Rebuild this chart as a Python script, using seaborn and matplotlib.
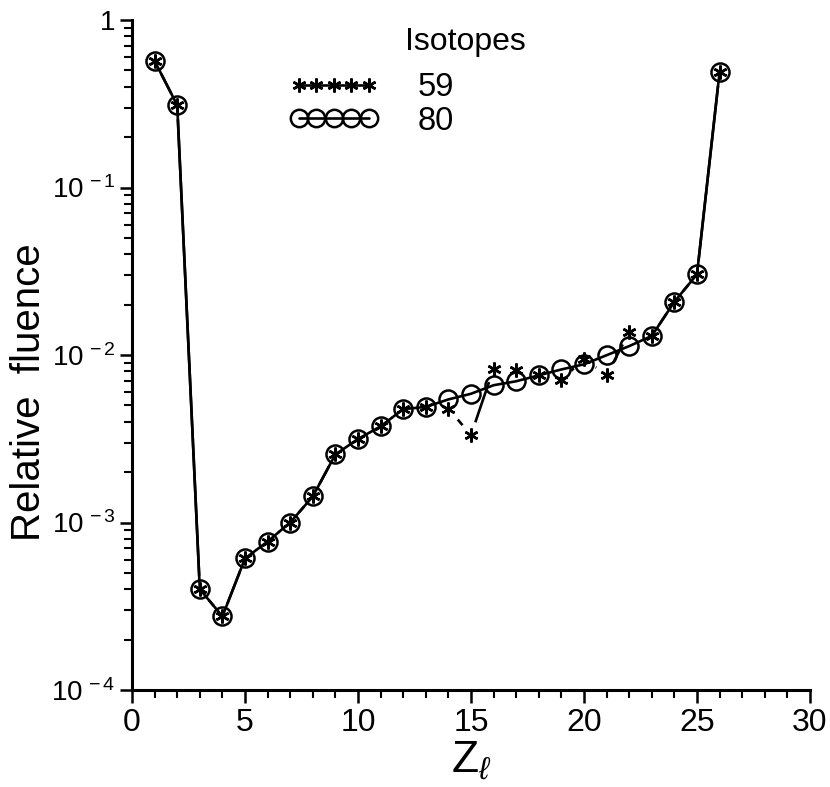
import numpy as np
import pandas as pd
import matplotlib
matplotlib.use("Agg")
import matplotlib.pyplot as plt
import seaborn as sns
from matplotlib.ticker import FixedLocator, LogLocator, NullFormatter, MultipleLocator
from matplotlib.lines import Line2D

# ---- data ----
z_values = list(range(1, 27))
fluence_80 = [0.57, 0.31, 4.0e-4, 2.75e-4, 6.1e-4, 7.7e-4, 1.0e-3, 1.43e-3, 2.55e-3, 3.15e-3,
              3.75e-3, 4.75e-3, 4.9e-3, 5.43e-3, 5.87e-3, 6.6e-3, 6.97e-3, 7.56e-3, 8.2e-3, 8.8e-3,
              9.97e-3, 1.13e-2, 1.30e-2, 2.08e-2, 3.03e-2, 0.49]
fluence_59 = [0.57, 0.31, 4.0e-4, 2.75e-4, 6.1e-4, 7.7e-4, 1.0e-3, 1.43e-3, 2.55e-3, 3.15e-3,
              3.75e-3, 4.75e-3, 4.9e-3, 4.78e-3, 3.33e-3, 8.3e-3, 8.19e-3, 7.56e-3, 7.07e-3, 9.53e-3,
              7.56e-3, 1.37e-2, 1.30e-2, 2.08e-2, 3.03e-2, 0.49]
isotope_labels = ["59", "80"]
legend_title = "Isotopes"
x_ticks = [0, 5, 10, 15, 20, 25, 30]
y_ticks = [1e-4, 1e-3, 1e-2, 1e-1, 1]
y_tick_labels = [r"$\mathregular{10^{\,-4}}$", r"$\mathregular{10^{\,-3}}$",
                 r"$\mathregular{10^{\,-2}}$", r"$\mathregular{10^{\,-1}}$", "1"]

df59 = pd.DataFrame({"Z": z_values, "F": fluence_59})
df80 = pd.DataFrame({"Z": z_values, "F": fluence_80})

sns.set_theme(style="ticks")
plt.rcParams["font.family"] = ["Liberation Sans", "DejaVu Sans"]
plt.rcParams["mathtext.fontset"] = "custom"
plt.rcParams["mathtext.rm"] = "Liberation Sans"
plt.rcParams["mathtext.it"] = "Liberation Sans:italic"
for key in ["text.color", "axes.labelcolor", "xtick.color", "ytick.color", "axes.edgecolor"]:
    plt.rcParams[key] = "black"

W, H = 830, 787
fig = plt.figure(figsize=(W / 100, H / 100), dpi=100)
ax = fig.add_axes([132 / W, (H - 690) / H, (810 - 132) / W, (690 - 20) / H])

lw = 1.9
circ_kw = dict(marker="o", markersize=13, markerfacecolor="none", markeredgecolor="black",
               markeredgewidth=1.8, color="black", linewidth=lw)
star_mk = dict(marker=(6, 2, 0), markersize=10, markeredgecolor="black", markeredgewidth=1.8)

# isotope 59: line, gapped around its markers (as in the original plotter output)
sns.lineplot(data=df59, x="Z", y="F", ax=ax, legend=False, color="black", linewidth=lw, zorder=2)
sns.lineplot(data=df59, x="Z", y="F", ax=ax, legend=False, linestyle="none", marker="o",
             markersize=19, markerfacecolor="white", markeredgecolor="white", zorder=3)
# isotope 80
sns.lineplot(data=df80, x="Z", y="F", ax=ax, legend=False, zorder=4, **circ_kw)
# isotope 59 markers
sns.lineplot(data=df59, x="Z", y="F", ax=ax, legend=False, linestyle="none", color="black",
             zorder=5, **star_mk)

ax.set_yscale("log")
ax.set_xlim(0, 30)
ax.set_ylim(1e-4, 1)

ax.xaxis.set_major_locator(FixedLocator(x_ticks))
ax.xaxis.set_minor_locator(MultipleLocator(1))
ax.set_xticklabels([str(t) for t in x_ticks])
ax.yaxis.set_major_locator(FixedLocator(y_ticks))
ax.yaxis.set_minor_locator(LogLocator(base=10, subs=np.arange(2, 10)))
ax.yaxis.set_minor_formatter(NullFormatter())
ax.set_yticklabels(y_tick_labels)

for s in ["top", "right"]:
    ax.spines[s].set_visible(False)
for s in ["left", "bottom"]:
    ax.spines[s].set_linewidth(2.2)
    ax.spines[s].set_color("black")

ax.tick_params(axis="both", which="major", length=9, width=1.8, direction="out", color="black",
               labelcolor="black")
ax.tick_params(axis="both", which="minor", length=6, width=1.5, direction="out", color="black")
ax.tick_params(axis="x", which="major", labelsize=23, pad=4)
ax.tick_params(axis="y", which="major", labelsize=20, pad=3)

ax.set_xlabel(r"$\mathregular{Z}_{\ell}$", fontsize=32, color="black")
ax.xaxis.set_label_coords(0.5, -0.075)
ax.set_ylabel("Relative  fluence", fontsize=29, color="black")
ax.yaxis.set_label_coords(-0.124, 0.445)

# legend: one entry per row, placed like the original
row_y = [88, 121]
handles = [Line2D([], [], color="black", linewidth=lw, **star_mk),
           Line2D([], [], **{**circ_kw, "markersize": 12.5})]
for h, lab, yy in zip(handles, isotope_labels, row_y):
    fig.legend([h], [lab], loc="center left", bbox_to_anchor=(289 / W, 1 - yy / H),
               frameon=False, numpoints=5, handlelength=2.75, handletextpad=1.2,
               fontsize=23.5, borderpad=0, borderaxespad=0, labelcolor="black")
fig.text(405 / W, 1 - 42 / H, legend_title, fontsize=23, ha="left", va="center", color="black")

fig.savefig("out.png", dpi=100, facecolor="white")
